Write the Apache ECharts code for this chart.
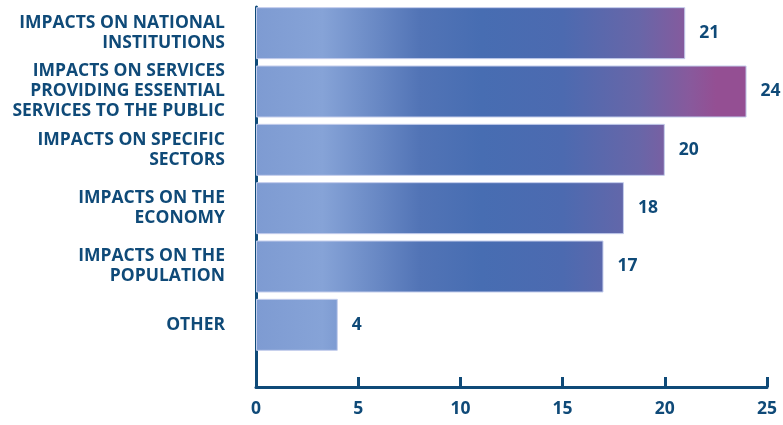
<!DOCTYPE html>
<html>
<head>
<meta charset="utf-8">
<script src="https://cdn.jsdelivr.net/npm/echarts@6/dist/echarts.min.js"></script>
<style>
  html, body { margin: 0; padding: 0; background: #fff; }
  #main { width: 783px; height: 425px; }
</style>
</head>
<body>
<div id="main"></div>
<script>
// categories and values, top to bottom
const categories = [
    'IMPACTS ON NATIONAL\nINSTITUTIONS',
    'IMPACTS ON SERVICES\nPROVIDING ESSENTIAL\nSERVICES TO THE PUBLIC',
    'IMPACTS ON SPECIFIC\nSECTORS',
    'IMPACTS ON THE\nECONOMY',
    'IMPACTS ON THE\nPOPULATION',
    'OTHER'
];
const values = [21, 24, 20, 18, 17, 4];
const xTicks = [0, 5, 10, 15, 20, 25];

const navy = '#0f4a78';
const font = '"Open Sans", "DejaVu Sans", sans-serif';
const fs = 17.5;

// gradient is spread over the whole axis, so short bars stay pale
const barGradient = {
    type: 'linear',
    global: true,
    x: 256, y: 0, x2: 767, y2: 0,
    colorStops: [
        { offset: 0, color: '#7e9bd2' },
        { offset: 0.13, color: '#86a3d7' },
        { offset: 0.32, color: '#5274b6' },
        { offset: 0.44, color: '#476db2' },
        { offset: 0.6, color: '#4c6ab0' },
        { offset: 0.75, color: '#6866a8' },
        { offset: 0.85, color: '#88599c' },
        { offset: 0.9, color: '#944f93' },
        { offset: 1, color: '#944f93' }
    ]
};

const option = {
    animation: false,
    backgroundColor: '#fff',
    grid: [
        { left: 256, right: 16, top: 4, bottom: 71 },   // bars
        { left: 256, right: 16, top: 7, bottom: 38 }    // visible axes
    ],
    xAxis: [
        {
            gridIndex: 0,
            type: 'value',
            min: xTicks[0],
            max: xTicks[xTicks.length - 1],
            show: false
        },
        {
            gridIndex: 1,
            type: 'value',
            min: xTicks[0],
            max: xTicks[xTicks.length - 1],
            interval: 5,
            splitLine: { show: false },
            axisLine: { show: true, lineStyle: { color: navy, width: 3 } },
            axisTick: { show: true, inside: true, length: 10, lineStyle: { color: navy, width: 3 } },
            axisLabel: {
                color: navy,
                fontFamily: font,
                fontWeight: 'bold',
                fontSize: fs,
                margin: 13
            }
        }
    ],
    yAxis: [
        {
            gridIndex: 0,
            type: 'category',
            inverse: true,
            data: categories,
            axisLine: { show: false },
            axisTick: { show: false },
            axisLabel: {
                color: navy,
                fontFamily: font,
                fontWeight: 'bold',
                fontSize: fs,
                lineHeight: 20,
                align: 'right',
                margin: 31
            }
        },
        {
            gridIndex: 1,
            type: 'value',
            min: 0,
            max: 1,
            splitLine: { show: false },
            axisTick: { show: false },
            axisLabel: { show: false },
            axisLine: { show: true, lineStyle: { color: navy, width: 3 } }
        }
    ],
    series: [
        {
            type: 'bar',
            xAxisIndex: 0,
            yAxisIndex: 0,
            data: values,
            barWidth: 52,
            itemStyle: {
                color: barGradient,
                borderColor: '#c3cdec',
                borderWidth: 1
            },
            label: {
                show: true,
                position: 'right',
                distance: 14,
                color: navy,
                fontFamily: font,
                fontWeight: 'bold',
                fontSize: fs
            }
        }
    ]
};

const chart = echarts.init(document.getElementById('main'));
chart.setOption(option);
</script>
</body>
</html>
